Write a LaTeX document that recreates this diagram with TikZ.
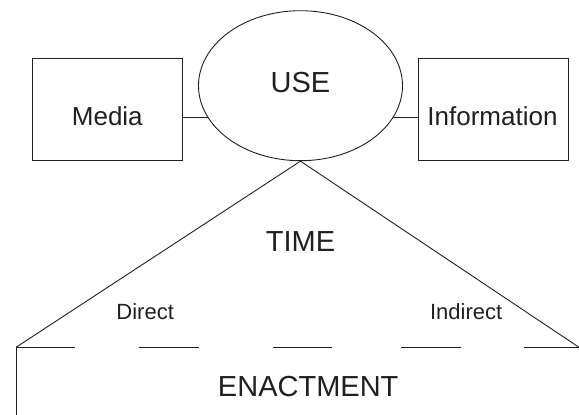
\documentclass[tikz,border=0pt]{standalone}
\usepackage{fontspec}
\setmainfont{Liberation Sans}
\usetikzlibrary{shapes.geometric}
\pgfdeclarelayer{bg}
\pgfsetlayers{bg,main}
\definecolor{ink}{HTML}{231F20}
\tikzset{
  outline/.style={draw=ink, line width=0.9pt},
  boxnode/.style={outline, fill=white, minimum width=150pt, minimum height=102pt, inner sep=0pt},
  boxtext/.style={font=\fontsize{26}{30}\selectfont, text=ink, inner sep=0pt},
  bigtext/.style={font=\fontsize{29}{33}\selectfont, text=ink, inner sep=0pt},
  smalltext/.style={font=\fontsize{22}{26}\selectfont, text=ink, inner sep=0pt},
  wire/.style={draw=ink, line width=0.9pt},
}
\begin{document}
\begin{tikzpicture}[x=1pt, y=-1pt]
  \useasboundingbox (0,0) rectangle (579,415);

  % central ellipse and the two side boxes
  \node[outline, fill=white, ellipse, minimum width=204pt, minimum height=150pt, inner sep=0pt]
    (use) at (300.5,85.7) {};
  \node[bigtext] (uselabel) at (300.5,82.5) {USE};
  \node[boxnode] (media) at (107.3,109.2) {};
  \node[boxtext] (medialabel) at (107.3,116) {Media};
  \node[boxnode] (info) at (493,109.2) {};
  \node[boxtext] (infolabel) at (492.5,116.5) {Information};

  % connectors, drawn behind the filled ellipse
  \begin{pgfonlayer}{bg}
    \draw[wire] (media.east |- 0,117.3) -- (use.center |- 0,117.3);
    \draw[wire] (info.west |- 0,117.3) -- (use.center |- 0,117.3);
  \end{pgfonlayer}

  % the roof: two slopes from the bottom of the ellipse
  \coordinate (bl) at (16,347.3);
  \coordinate (br) at (579,347.3);
  \coordinate (floor) at (16,415);
  \draw[wire, line join=miter] (bl) -- (use.south) -- (br);
  \draw[wire] (bl) -- (floor);

  % broken base line
  \foreach \a/\b in {16/75, 139/198.5, 272.8/332, 401.3/460.7, 524/579}
    \draw[wire] (\a,347.3) -- (\b,347.3);

  % labels
  \node[bigtext] (time) at (300.5,241.3) {TIME};
  \node[smalltext] (direct) at (145.2,312) {Direct};
  \node[smalltext] (indirect) at (466.2,312) {Indirect};
  \node[bigtext] (enact) at (308.2,386.2) {ENACTMENT};
\end{tikzpicture}
\end{document}
